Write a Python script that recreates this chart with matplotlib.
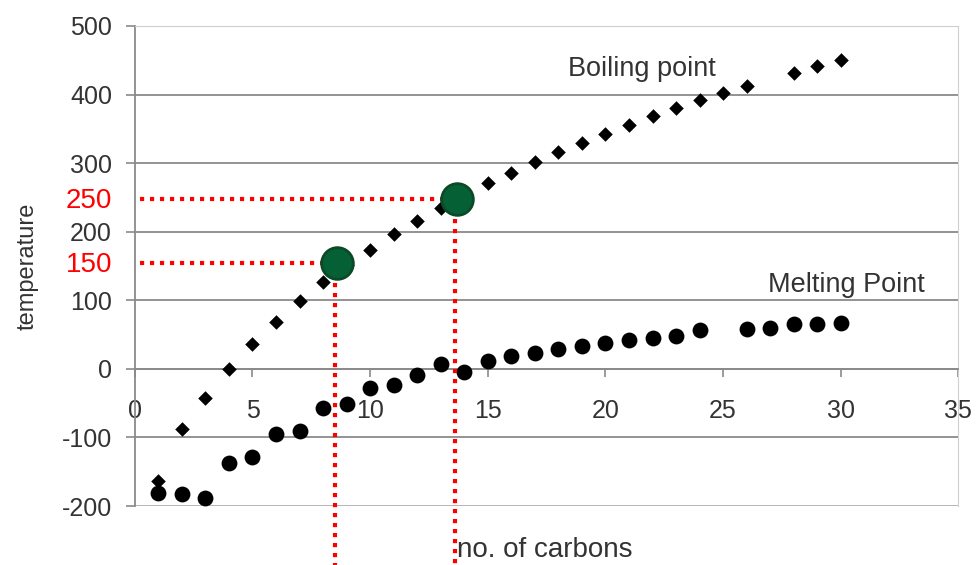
import matplotlib
matplotlib.use("Agg")
import matplotlib.pyplot as plt

plt.rcParams["font.family"] = ["Liberation Sans", "DejaVu Sans"]
plt.rcParams["axes.unicode_minus"] = False

# number of carbons and temperatures (deg C)
bp_carbons = [1, 2, 3, 4, 5, 6, 7, 8, 9, 10, 11, 12, 13, 14, 15, 16, 17, 18, 19, 20,
              21, 22, 23, 24, 25, 26, 28, 29, 30]
boiling = [-164, -88, -42, 0, 36, 69, 99, 126, 151, 174, 197, 216, 235, 254, 271, 286, 302,
           316, 330, 343, 356, 369, 380, 392, 402, 412, 432, 442, 450]

mp_carbons = [1, 2, 3, 4, 5, 6, 7, 8, 9, 10, 11, 12, 13, 14, 15, 16, 17, 18, 19, 20,
              21, 22, 23, 24, 26, 27, 28, 29, 30]
melting = [-181, -183, -189, -137, -129, -95, -90, -57, -51, -28, -24, -9, 7, -5, 12, 19, 23,
           29, 33, 38, 42, 45, 48, 56, 58, 60, 66, 65, 67]

# the two highlighted readings
hl_x = [8.6, 13.7]
hl_y = [154, 248]
hl_labels = ["150", "250"]

fig = plt.figure(figsize=(9.77, 5.65), dpi=100)
ax = fig.add_axes([0.138, 0.1044, 0.843, 0.8496])

ax.set_xlim(0, 35)
ax.set_ylim(-200, 500)
ax.set_yticks(range(-200, 501, 100))
ax.set_xticks(range(0, 36, 5))

for y in range(-100, 501, 100):
    ax.axhline(y, color="#8a8a8a", lw=1.3, zorder=1)

ax.spines["bottom"].set_position(("data", 0))
ax.spines["bottom"].set_color("#8a8a8a")
ax.spines["bottom"].set_linewidth(1.3)
ax.spines["left"].set_color("#8a8a8a")
ax.spines["left"].set_linewidth(1.3)
ax.spines["top"].set_color("#cfcfcf")
ax.spines["right"].set_color("#cfcfcf")
ax.axhline(-200, color="#b0b0b0", lw=1.3, zorder=1)

ax.tick_params(axis="y", length=6.5, width=1.2, color="#8a8a8a", pad=10,
               labelsize=18, labelcolor="#333333")
ax.tick_params(axis="x", length=6, width=1.2, color="#8a8a8a", pad=16,
               labelsize=18, labelcolor="#333333")

ax.scatter(bp_carbons, boiling, marker="D", s=55, color="black", zorder=3, linewidths=0)
ax.scatter(mp_carbons, melting, marker="o", s=130, color="black", zorder=3, linewidths=0)

ax.text(18.4, 437, "Boiling point", fontsize=19.5, color="#333333", ha="left", va="center")
ax.text(33.55, 123, "Melting Point", fontsize=19.5, color="#333333", ha="right", va="center")

ax.set_ylabel("temperature", fontsize=17, color="#333333")
ax.yaxis.set_label_coords(-0.117, 0.5)
fig.text(0.468, 0.027, "no. of carbons", fontsize=20, color="#333333", ha="left", va="center")

# red dotted guides and green markers
for x, y, lab in zip(hl_x, hl_y, hl_labels):
    ax.plot([0.2, x], [y, y], color="red", lw=3, linestyle=(0, (1, 1.4)), zorder=4,
            solid_capstyle="butt")
    ax.plot([x - 0.1, x - 0.1], [y, -290], color="red", lw=3, linestyle=(0, (1, 1.4)),
            zorder=4, clip_on=False)
    ax.scatter([x], [y], s=520, color="#056135", edgecolors="#0b4a27", linewidths=2,
               zorder=5)
    ax.text(-0.95, y - 3, lab, fontsize=20, color="red", ha="right", va="center",
            clip_on=False)

fig.savefig("out.png", dpi=100)
